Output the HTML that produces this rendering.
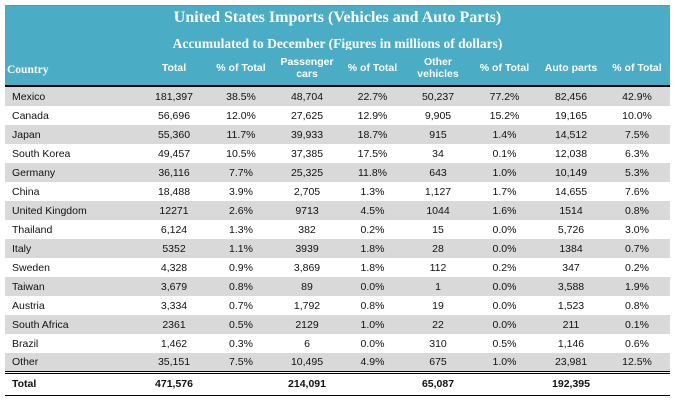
<!DOCTYPE html>
<html><head><meta charset="utf-8"><style>
body{margin:0;width:675px;height:400px;background:#fff;overflow:hidden;font-family:"Liberation Sans",sans-serif}
#wrap{position:absolute;left:5px;top:5px;width:665px}
.hdr{background:#4BACC6;height:81px;position:relative;border-top:1px solid #888;box-sizing:border-box}
.t1,.t2{position:absolute;left:0;width:665px;text-align:center;color:#fff;font-family:"Liberation Serif",serif;font-weight:bold}
.t1{top:3px;font-size:16px}.t2{top:30px;font-size:13.5px}
table{border-collapse:collapse;table-layout:fixed;width:665px;font-size:10.5px}
td{text-align:center;padding:0;height:19px;color:#111;box-sizing:border-box}
td:first-child{text-align:left;padding-left:7px}
tr.g td{background:#D9D9D9}
thead td{color:#fff;font-weight:bold;height:36px;line-height:12px;background:#4BACC6}
thead td:first-child{font-family:"Liberation Serif",serif;padding-left:2px;font-size:11.5px;vertical-align:bottom;padding-bottom:9px}
tbody tr:first-child td{border-top:2px solid #000;height:20px}
tr.tot td{font-weight:bold;border-top:3px double #000;border-bottom:1px solid #000;height:23px}
</style></head><body>
<div id="wrap">
<div class="hdr">
<div class="t1">United States Imports (Vehicles and Auto Parts)</div>
<div class="t2">Accumulated to December (Figures in millions of dollars)</div>
</div>
<table style="margin-top:-36px;position:relative">
<colgroup><col style="width:135px"><col style="width:68px"><col style="width:66px"><col style="width:66px"><col style="width:65px"><col style="width:66px"><col style="width:67px"><col style="width:66px"><col style="width:66px"></colgroup>
<thead><tr><td>Country</td><td>Total</td><td>% of Total</td><td>Passenger<br>cars</td><td>% of Total</td><td>Other<br>vehicles</td><td>% of Total</td><td>Auto parts</td><td>% of Total</td></tr></thead>
<tbody>
<tr class="g"><td>Mexico</td><td>181,397</td><td>38.5%</td><td>48,704</td><td>22.7%</td><td>50,237</td><td>77.2%</td><td>82,456</td><td>42.9%</td></tr>
<tr><td>Canada</td><td>56,696</td><td>12.0%</td><td>27,625</td><td>12.9%</td><td>9,905</td><td>15.2%</td><td>19,165</td><td>10.0%</td></tr>
<tr class="g"><td>Japan</td><td>55,360</td><td>11.7%</td><td>39,933</td><td>18.7%</td><td>915</td><td>1.4%</td><td>14,512</td><td>7.5%</td></tr>
<tr><td>South Korea</td><td>49,457</td><td>10.5%</td><td>37,385</td><td>17.5%</td><td>34</td><td>0.1%</td><td>12,038</td><td>6.3%</td></tr>
<tr class="g"><td>Germany</td><td>36,116</td><td>7.7%</td><td>25,325</td><td>11.8%</td><td>643</td><td>1.0%</td><td>10,149</td><td>5.3%</td></tr>
<tr><td>China</td><td>18,488</td><td>3.9%</td><td>2,705</td><td>1.3%</td><td>1,127</td><td>1.7%</td><td>14,655</td><td>7.6%</td></tr>
<tr class="g"><td>United Kingdom</td><td>12271</td><td>2.6%</td><td>9713</td><td>4.5%</td><td>1044</td><td>1.6%</td><td>1514</td><td>0.8%</td></tr>
<tr><td>Thailand</td><td>6,124</td><td>1.3%</td><td>382</td><td>0.2%</td><td>15</td><td>0.0%</td><td>5,726</td><td>3.0%</td></tr>
<tr class="g"><td>Italy</td><td>5352</td><td>1.1%</td><td>3939</td><td>1.8%</td><td>28</td><td>0.0%</td><td>1384</td><td>0.7%</td></tr>
<tr><td>Sweden</td><td>4,328</td><td>0.9%</td><td>3,869</td><td>1.8%</td><td>112</td><td>0.2%</td><td>347</td><td>0.2%</td></tr>
<tr class="g"><td>Taiwan</td><td>3,679</td><td>0.8%</td><td>89</td><td>0.0%</td><td>1</td><td>0.0%</td><td>3,588</td><td>1.9%</td></tr>
<tr><td>Austria</td><td>3,334</td><td>0.7%</td><td>1,792</td><td>0.8%</td><td>19</td><td>0.0%</td><td>1,523</td><td>0.8%</td></tr>
<tr class="g"><td>South Africa</td><td>2361</td><td>0.5%</td><td>2129</td><td>1.0%</td><td>22</td><td>0.0%</td><td>211</td><td>0.1%</td></tr>
<tr><td>Brazil</td><td>1,462</td><td>0.3%</td><td>6</td><td>0.0%</td><td>310</td><td>0.5%</td><td>1,146</td><td>0.6%</td></tr>
<tr class="g"><td>Other</td><td>35,151</td><td>7.5%</td><td>10,495</td><td>4.9%</td><td>675</td><td>1.0%</td><td>23,981</td><td>12.5%</td></tr>
<tr class="tot"><td>Total</td><td>471,576</td><td></td><td>214,091</td><td></td><td>65,087</td><td></td><td>192,395</td><td></td></tr>
</tbody></table>
</div>
</body></html>
